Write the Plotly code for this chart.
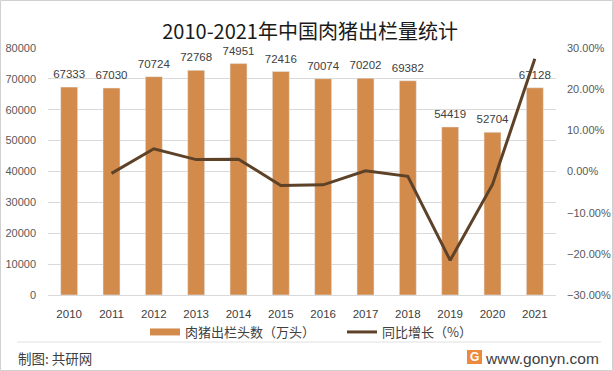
import plotly.graph_objects as go

years = ["2010", "2011", "2012", "2013", "2014", "2015", "2016", "2017", "2018", "2019", "2020", "2021"]
hogs = [67333, 67030, 70724, 72768, 74951, 72416, 70074, 70202, 69382, 54419, 52704, 67128]
growth_years = ["2011", "2012", "2013", "2014", "2015", "2016", "2017", "2018", "2019", "2020", "2021"]
growth = [-0.0045, 0.0551, 0.0289, 0.0300, -0.0338, -0.0323, 0.0018, -0.0117, -0.2157, -0.0315, 0.2737]

FONT = "Microsoft YaHei, Noto Sans CJK SC, sans-serif"
NUMFONT = "Liberation Sans, Arial, sans-serif"
BAR = "#D38B4C"
LINE = "#5E4228"

# plot area in pixels
L, R, T, B = 48, 556, 48, 295
PW, PH = R - L, B - T


def px(x):
    return (x - L) / PW


def py(y):
    return (B - y) / PH


fig = go.Figure()
fig.add_trace(go.Bar(
    x=years, y=hogs, name="肉猪出栏头数（万头）", marker_color=BAR, showlegend=False,
))
# value labels above the bars
fig.add_trace(go.Scatter(
    x=years, y=hogs, mode="markers+text", text=[str(v) for v in hogs], textposition="top center",
    marker=dict(size=8, color="rgba(0,0,0,0)"),
    textfont=dict(size=11.5, color="#404040", family=NUMFONT), showlegend=False,
    cliponaxis=False, hoverinfo="skip",
))
# legend swatch for the bars (wide flat rectangle like the reference)
fig.add_trace(go.Scatter(
    x=[years[0]], y=[None], mode="lines", name="肉猪出栏头数（万头）",
    line=dict(color=BAR, width=7), hoverinfo="skip",
))
fig.add_trace(go.Scatter(
    x=growth_years, y=growth, name="同比增长（%）", mode="lines",
    line=dict(color=LINE, width=3), yaxis="y2",
))

annotations = [
    dict(text="制图: 共研网", xref="paper", yref="paper", x=px(16), y=py(358),
         xanchor="left", yanchor="middle", showarrow=False, font=dict(size=13.5, color="#404040")),
    dict(text="www.gonyn.com", xref="paper", yref="paper", x=px(601), y=py(358),
         xanchor="right", yanchor="middle", showarrow=False,
         font=dict(size=15.5, color="#404040", family=NUMFONT)),
    dict(text="<b>G</b>", xref="paper", yref="paper", x=px(474.5), y=py(357),
         xanchor="center", yanchor="middle", showarrow=False,
         font=dict(size=12, color="white", family=NUMFONT)),
]

fig.update_layout(
    width=613, height=371,
    margin=dict(l=L, r=613 - R, t=T, b=371 - B, autoexpand=False),
    paper_bgcolor="white", plot_bgcolor="white",
    font=dict(family=FONT, color="#404040", size=12),
    title=dict(text="2010-2021年中国肉猪出栏量统计", x=px(305), xanchor="center", y=1 - 32 / 371,
               yanchor="middle", font=dict(size=20, color="#1a1a1a")),
    bargap=0.6,
    showlegend=True,
    legend=dict(orientation="h", x=px(145), xanchor="left", y=py(332), yanchor="middle",
                font=dict(size=13, color="#404040"), itemwidth=30, traceorder="normal",
                entrywidth=152, bgcolor="rgba(0,0,0,0)"),
    xaxis=dict(type="category", categoryorder="array", categoryarray=years,
               range=[-0.5, len(years) - 0.5],
               showgrid=False, showline=True, linecolor="#d9d9d9",
               ticks="", ticklabelstandoff=8,
               tickfont=dict(size=11.5, color="#404040", family=NUMFONT)),
    yaxis=dict(range=[0, 80000], dtick=10000, tickformat="d", showgrid=True, gridcolor="#d9d9d9",
               zeroline=False, ticklabelstandoff=11,
               tickfont=dict(size=11, color="#595959", family=NUMFONT)),
    yaxis2=dict(range=[-0.3, 0.3], dtick=0.1, tickformat=".2%", overlaying="y", side="right",
                showgrid=False, zeroline=False, ticklabelstandoff=10,
                tickfont=dict(size=11, color="#595959", family=NUMFONT)),
    shapes=[
        dict(type="rect", xref="paper", yref="paper", x0=px(0.5), x1=px(612.5),
             y0=py(370.5), y1=py(0.5), line=dict(color="#d0d0d0", width=1)),
        dict(type="line", xref="paper", yref="paper", x0=px(17), x1=px(601),
             y0=py(342), y1=py(342), line=dict(color="#e0e0e0", width=1)),
        dict(type="rect", xref="paper", yref="paper", x0=px(467), x1=px(482),
             y0=py(364), y1=py(350), fillcolor="#EE8A3C", line=dict(width=0)),
    ],
    annotations=annotations,
)

fig.write_html("out.html", config={"displayModeBar": False},
               post_script="document.body.style.margin='0';document.body.style.overflow='hidden';")
